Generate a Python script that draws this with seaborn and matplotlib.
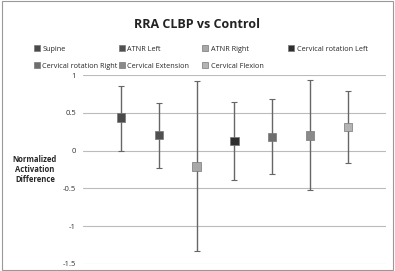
import numpy as np
import pandas as pd
import matplotlib
matplotlib.use("Agg")
import matplotlib.pyplot as plt
import seaborn as sns

# ─── Data ─────────────────────────────────────────────────────────────────────
conditions = ["Supine", "ATNR Left", "ATNR Right", "Cervical rotation Left",
              "Cervical rotation Right", "Cervical Extension", "Cervical Flexion"]
means = [0.44, 0.21, -0.21, 0.13, 0.18, 0.20, 0.31]
upper = [0.86, 0.63, 0.92, 0.65, 0.68, 0.93, 0.79]
lower = [-0.01, -0.23, -1.33, -0.39, -0.31, -0.52, -0.17]
marker_colors = ["#4a4a4a", "#505050", "#a8a8a8", "#2e2e2e",
                 "#6e6e6e", "#8a8a8a", "#b4b4b4"]
yticks = [1, 0.5, 0, -0.5, -1, -1.5]

df = pd.DataFrame({"condition": conditions, "mean": means,
                   "upper": upper, "lower": lower})
df["pos"] = np.arange(1, len(df) + 1)

# ─── Plot ─────────────────────────────────────────────────────────────────────
sns.set_style("white")
plt.rcParams["font.family"] = ["Open Sans", "DejaVu Sans"]

fig = plt.figure(figsize=(3.95, 2.71), dpi=100)
ax = fig.add_axes([0.21, 0.026, 0.767, 0.697])

ax.errorbar(df["pos"], df["mean"],
            yerr=[df["mean"] - df["lower"], df["upper"] - df["mean"]],
            fmt="none", ecolor="#666666", elinewidth=1.0, capsize=2, capthick=0.8,
            zorder=2)
sns.scatterplot(data=df, x="pos", y="mean", hue="condition",
                palette=dict(zip(conditions, marker_colors)), marker="s", s=36,
                edgecolor="#777777", linewidth=0.5, ax=ax, zorder=3, legend=True)

ax.set_xlim(0, 8)
ax.set_ylim(-1.5, 1)
ax.set_yticks(yticks)
ax.set_yticklabels([f"{t:g}" for t in yticks], fontsize=5.5, color="#333333")
ax.set_xticks([])
ax.yaxis.grid(True, color="#bbbbbb", linewidth=0.8)
ax.tick_params(axis="y", length=0, pad=5)
for s in ax.spines.values():
    s.set_visible(False)
ax.set_xlabel("")
ax.set_ylabel("Normalized\nActivation\nDifference", rotation=0, fontsize=5.5,
              fontweight="bold", labelpad=20, va="center")

# legend: 4 equal-width columns, filled row by row (one small legend per column)
handles, labels = ax.get_legend_handles_labels()
ax.get_legend().remove()
for h in handles:
    h.set_markersize(4.5)
col_x = [0.080, 0.295, 0.507, 0.725]
for k, x in enumerate(col_x):
    idx = [i for i in (k, k + 4) if i < len(handles)]
    fig.legend([handles[i] for i in idx], [labels[i] for i in idx],
               loc="upper left", bbox_to_anchor=(x, 0.842), frameon=False,
               fontsize=5.2, handlelength=0.6, handletextpad=0.5,
               labelspacing=1.4, borderaxespad=0)

fig.suptitle("RRA CLBP vs Control", fontsize=9, fontweight="bold", y=0.935,
             color="#222222")

# outer chart frame
fig.patches.append(plt.Rectangle((0.005, 0.005), 0.99, 0.99, transform=fig.transFigure,
                                 fill=False, edgecolor="#999999", linewidth=0.8))

fig.savefig("out.png", dpi=100)
